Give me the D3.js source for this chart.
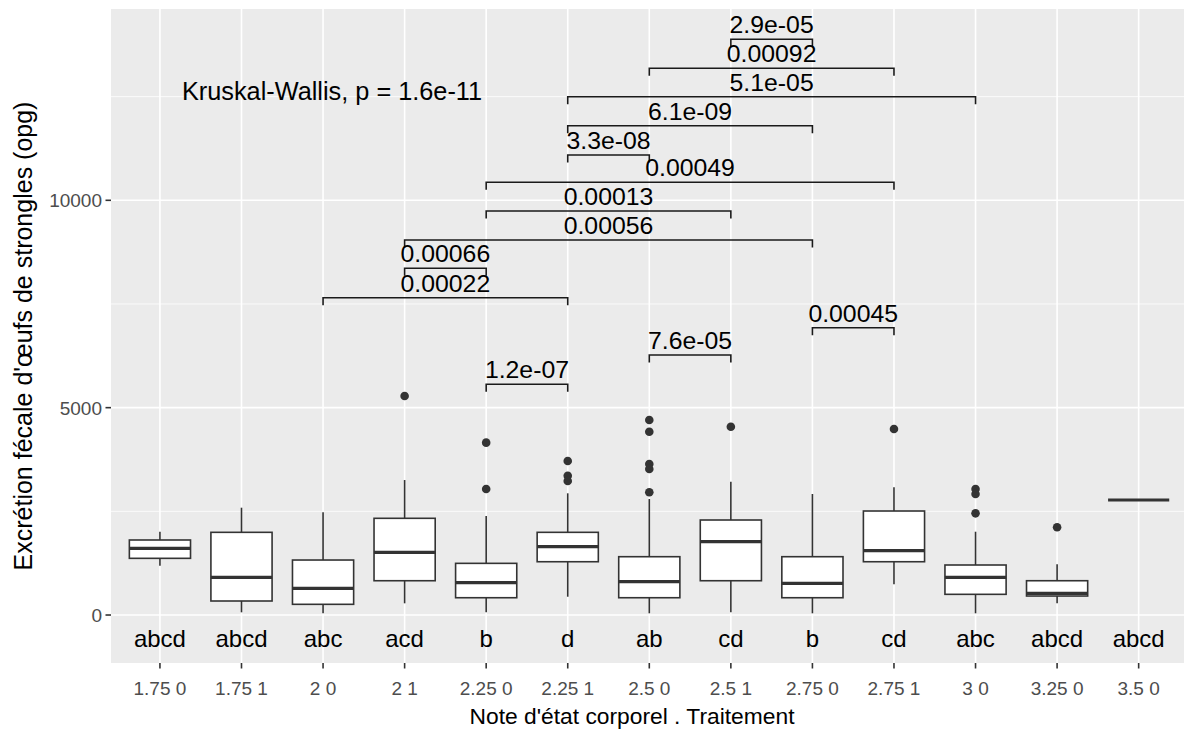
<!DOCTYPE html>
<html>
<head>
<meta charset="utf-8">
<script src="https://cdn.jsdelivr.net/npm/d3@7"></script>
<style>
  html, body { margin: 0; padding: 0; background: #ffffff; }
  svg { display: block; font-family: "Liberation Sans", Arial, sans-serif; }
</style>
</head>
<body>
<svg id="chart" width="1184" height="731"></svg>
<script>
// ---- data ----
const categories = ["1.75 0","1.75 1","2 0","2 1","2.25 0","2.25 1","2.5 0","2.5 1","2.75 0","2.75 1","3 0","3.25 0","3.5 0"];
const whiskerLow  = [1190,  65,   41,  282,  65,  441,  41,   65,   41,  740,  41,  282, 2773];
const q1          = [1367, 338,  258,  827, 417, 1285, 417,  827,  417, 1285, 499,  458, 2773];
const median      = [1608, 909,  644, 1512, 779, 1647, 803, 1768,  764, 1551, 909,  523, 2773];
const q3          = [1809,1994, 1326, 2332,1246, 1994,1406, 2291, 1406, 2508,1206,  827, 2773];
const whiskerHigh = [2009,2588, 2476, 3255,2387, 2935,2797, 3215, 2918, 3079,2009, 1222, 2773];
const outliers = [
  [], [], [], [5281], [4156, 3038], [3714, 3357, 3233],
  [4702, 4420, 3641, 3521, 2959], [4541], [], [4485], [3040, 2920, 2452], [2115], []
];
const letters = ["abcd","abcd","abc","acd","b","d","ab","cd","b","cd","abc","abcd","abcd"];
const letterY = -555;

// pairwise comparisons, p-value labels, bracket heights
const cmpGroup1 = ["2.5 1","2.5 0","2.25 1","2.25 1","2.25 1","2.25 0","2.25 0","2 1","2 1","2 0","2.75 0","2.5 0","2.25 0"];
const cmpGroup2 = ["2.75 0","2.75 1","3 0","2.75 0","2.5 0","2.75 1","2.5 1","2.75 0","2.25 0","2.25 1","2.75 1","2.5 1","2.25 1"];
const cmpLabel  = ["2.9e-05","0.00092","5.1e-05","6.1e-09","3.3e-08","0.00049","0.00013","0.00056","0.00066","0.00022","0.00045","7.6e-05","1.2e-07"];
const cmpY      = [13883, 13183, 12498, 11799, 11092, 10434, 9742, 9043, 8360, 7651, 6928, 6270, 5563];
const bracketTip = 180;

const kwLabel = "Kruskal-Wallis, p = 1.6e-11";
const kwX = 1.27;   // position along the category axis (1 = first group)
const kwY = 12420;

const yTicks = [0, 5000, 10000];
const yMinor = [2500, 7500, 12500];
const yDomain = [-1157, 14613];
const xTitle = "Note d'état corporel . Traitement";
const yTitle = "Excrétion fécale d'œufs de strongles (opg)";

// ---- layout ----
const W = 1184, H = 731;
const panel = { left: 111, top: 9, bottom: 663 };
const step = 81.56;
panel.right = panel.left + step * (categories.length + 0.2);

const svg = d3.select("#chart");
svg.append("rect").attr("width", W).attr("height", H).attr("fill", "#ffffff");

const x = d3.scaleBand().domain(categories)
  .range([panel.left, panel.right]).paddingOuter(0.1).paddingInner(0).align(0.5);
const band = x.bandwidth();
const cx = c => x(c) + band / 2;
const cxi = i => cx(categories[0]) + (i - 1) * (cx(categories[1]) - cx(categories[0]));

const y = d3.scaleLinear().domain(yDomain).range([panel.bottom, panel.top]);

// panel background
svg.append("rect")
  .attr("x", panel.left).attr("y", panel.top)
  .attr("width", panel.right - panel.left).attr("height", panel.bottom - panel.top)
  .attr("fill", "#EBEBEB");

const grid = svg.append("g");
grid.selectAll("line.minor").data(yMinor).join("line")
  .attr("x1", panel.left).attr("x2", panel.right)
  .attr("y1", d => y(d)).attr("y2", d => y(d))
  .attr("stroke", "#ffffff").attr("stroke-width", 0.8);
grid.selectAll("line.majory").data(yTicks).join("line")
  .attr("x1", panel.left).attr("x2", panel.right)
  .attr("y1", d => y(d)).attr("y2", d => y(d))
  .attr("stroke", "#ffffff").attr("stroke-width", 1.6);
grid.selectAll("line.majorx").data(categories).join("line")
  .attr("x1", d => cx(d)).attr("x2", d => cx(d))
  .attr("y1", panel.top).attr("y2", panel.bottom)
  .attr("stroke", "#ffffff").attr("stroke-width", 1.6);

// boxplots
const boxW = band * 0.75;
const boxes = svg.append("g");
categories.forEach((c, i) => {
  const g = boxes.append("g");
  const xc = cx(c);
  const line = "#333333";
  g.append("line").attr("x1", xc).attr("x2", xc)
    .attr("y1", y(q3[i])).attr("y2", y(whiskerHigh[i]))
    .attr("stroke", line).attr("stroke-width", 1.6);
  g.append("line").attr("x1", xc).attr("x2", xc)
    .attr("y1", y(q1[i])).attr("y2", y(whiskerLow[i]))
    .attr("stroke", line).attr("stroke-width", 1.6);
  if (q3[i] > q1[i]) {
    g.append("rect")
      .attr("x", xc - boxW / 2).attr("y", y(q3[i]))
      .attr("width", boxW).attr("height", y(q1[i]) - y(q3[i]))
      .attr("fill", "#ffffff").attr("stroke", line).attr("stroke-width", 1.6);
  }
  g.append("line").attr("x1", xc - boxW / 2).attr("x2", xc + boxW / 2)
    .attr("y1", y(median[i])).attr("y2", y(median[i]))
    .attr("stroke", line).attr("stroke-width", 3.2);
  g.selectAll("circle").data(outliers[i]).join("circle")
    .attr("cx", xc).attr("cy", d => y(d)).attr("r", 4.3)
    .attr("fill", "#333333");
});

// compact letters
svg.append("g").selectAll("text").data(letters).join("text")
  .attr("x", (d, i) => cx(categories[i]))
  .attr("y", y(letterY))
  .attr("dy", "0.36em")
  .attr("text-anchor", "middle")
  .attr("font-size", 24)
  .attr("fill", "#000000")
  .text(d => d);

// comparison brackets
const br = svg.append("g");
cmpLabel.forEach((lab, i) => {
  const x1 = cx(cmpGroup1[i]), x2 = cx(cmpGroup2[i]);
  const yy = y(cmpY[i]), yt = y(cmpY[i] - bracketTip);
  br.append("path")
    .attr("d", `M${x1},${yt}L${x1},${yy}L${x2},${yy}L${x2},${yt}`)
    .attr("fill", "none").attr("stroke", "#1a1a1a").attr("stroke-width", 1.6);
  br.append("text")
    .attr("x", (x1 + x2) / 2).attr("y", yy - 6)
    .attr("text-anchor", "middle")
    .attr("font-size", 24.8)
    .attr("fill", "#000000")
    .text(lab);
});

// Kruskal-Wallis label
svg.append("text")
  .attr("x", cxi(kwX)).attr("y", y(kwY))
  .attr("text-anchor", "start")
  .attr("font-size", 25.3)
  .attr("fill", "#000000")
  .text(kwLabel);

// axes
const yAxis = svg.append("g");
yAxis.selectAll("line").data(yTicks).join("line")
  .attr("x1", panel.left - 5.5).attr("x2", panel.left)
  .attr("y1", d => y(d)).attr("y2", d => y(d))
  .attr("stroke", "#333333").attr("stroke-width", 1.6);
yAxis.selectAll("text").data(yTicks).join("text")
  .attr("x", panel.left - 9).attr("y", d => y(d)).attr("dy", "0.36em")
  .attr("text-anchor", "end")
  .attr("font-size", 19).attr("fill", "#4D4D4D")
  .text(d => d);

const xAxis = svg.append("g");
xAxis.selectAll("line").data(categories).join("line")
  .attr("x1", d => cx(d)).attr("x2", d => cx(d))
  .attr("y1", panel.bottom).attr("y2", panel.bottom + 5.5)
  .attr("stroke", "#333333").attr("stroke-width", 1.6);
xAxis.selectAll("text").data(categories).join("text")
  .attr("x", d => cx(d)).attr("y", panel.bottom + 32)
  .attr("text-anchor", "middle")
  .attr("font-size", 19).attr("fill", "#4D4D4D")
  .text(d => d);

svg.append("text")
  .attr("x", 632).attr("y", 724)
  .attr("text-anchor", "middle")
  .attr("font-size", 22.8).attr("fill", "#000000")
  .text(xTitle);

svg.append("text")
  .attr("transform", `translate(32, ${(panel.top + panel.bottom) / 2}) rotate(-90)`)
  .attr("text-anchor", "middle")
  .attr("font-size", 25).attr("fill", "#000000")
  .text(yTitle);
</script>
</body>
</html>
